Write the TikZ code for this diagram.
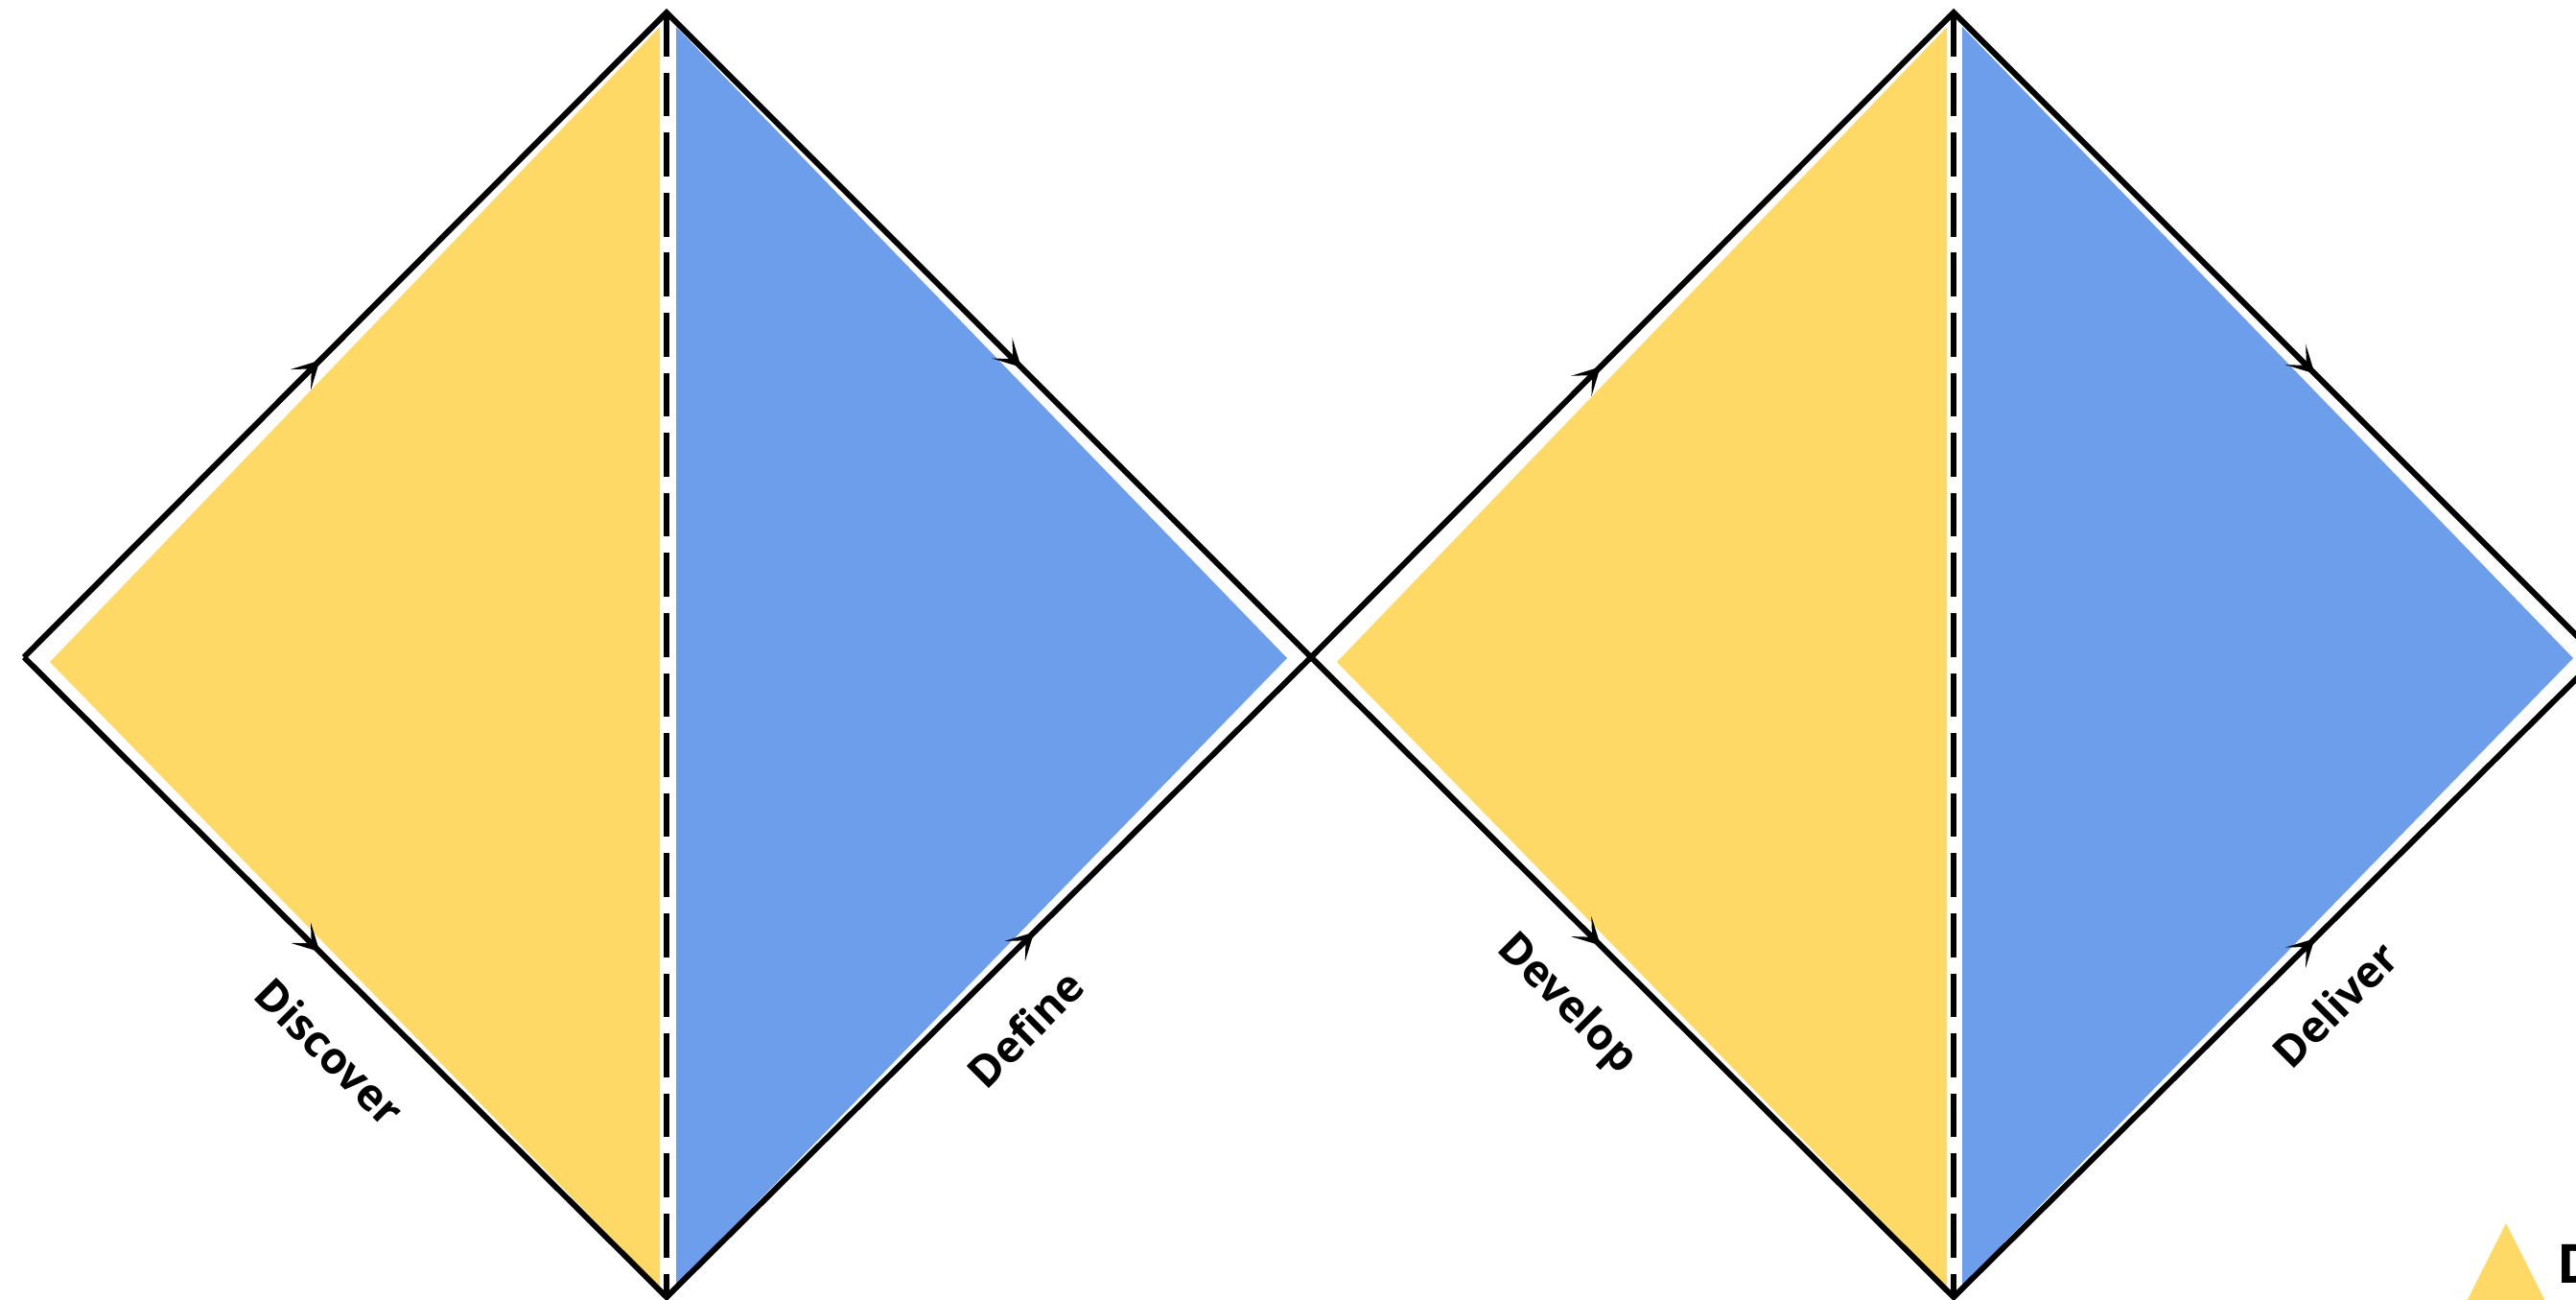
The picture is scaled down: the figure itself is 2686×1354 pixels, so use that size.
\documentclass[tikz,border=0pt]{standalone}
\usepackage{fontspec}
\setmainfont{Open Sans}
\usetikzlibrary{decorations.markings,arrows.meta}
\definecolor{discgold}{HTML}{FFD966}
\definecolor{defblue}{HTML}{6D9EEB}
\tikzset{
  edge/.style={black, line width=1.7pt, line join=miter},
  flowpair/.style 2 args={decoration={markings,
      mark=at position #1 with {\arrow{Stealth[length=8pt,width=8.5pt,inset=4.5pt]}},
      mark=at position #2 with {\arrow{Stealth[length=8pt,width=8.5pt,inset=4.5pt]}}},
    postaction={decorate}},
  divider/.style={black, line width=1.6pt, dash pattern=on 13pt off 4.8pt},
  phase/.style={font=\bfseries\fontsize{13}{15}\selectfont, inner sep=0pt},
}
\begin{document}
\begin{tikzpicture}[x=0.01cm, y=-0.01cm]
\useasboundingbox (0,0) rectangle (2686,1354);
\clip (0,0) rectangle (2686,1354);
% corners of the two diamonds
\coordinate (l1) at (25,685);
\coordinate (t1) at (695,13);
\coordinate (b1) at (695,1352);
\coordinate (m) at (1367,685);
\coordinate (t2) at (2037,13);
\coordinate (b2) at (2037,1352);
\coordinate (r2) at (2709,685);
% fills
\fill[discgold] (52,690) -- (688,28) -- (688,1342) -- cycle;
\fill[defblue] (705,28) -- (1342,686) -- (705,1340) -- cycle;
\fill[discgold] (1394,690) -- (2030,28) -- (2030,1342) -- cycle;
\fill[defblue] (2046,28) -- (2683,686) -- (2046,1340) -- cycle;
% outlines
\draw[edge, flowpair={0.23}{0.775}] (l1) -- (t1) -- (m);
\draw[edge, flowpair={0.23}{0.785}] (l1) -- (b1) -- (m);
\draw[edge, flowpair={0.225}{0.78}] (m) -- (t2) -- (r2);
\draw[edge, flowpair={0.225}{0.78}] (m) -- (b2) -- (r2);
\draw[divider] (t1) -- (b1);
\draw[divider] (t2) -- (b2);
% labels
\node[phase, rotate=-45] (discover) at (344,1096) {Discover};
\node[phase, rotate=45] (define) at (1069,1072) {Define};
\node[phase, rotate=-45] (develop) at (1633,1047) {Develop};
\node[phase, rotate=45] (deliver) at (2435,1047) {Deliver};
% legend
\fill[discgold] (2613,1275) -- (2676,1400) -- (2550,1400) -- cycle;
\node[phase, font=\bfseries\fontsize{16}{19}\selectfont, anchor=base west] (legend) at (2666,1337) {D};
\end{tikzpicture}
\end{document}
